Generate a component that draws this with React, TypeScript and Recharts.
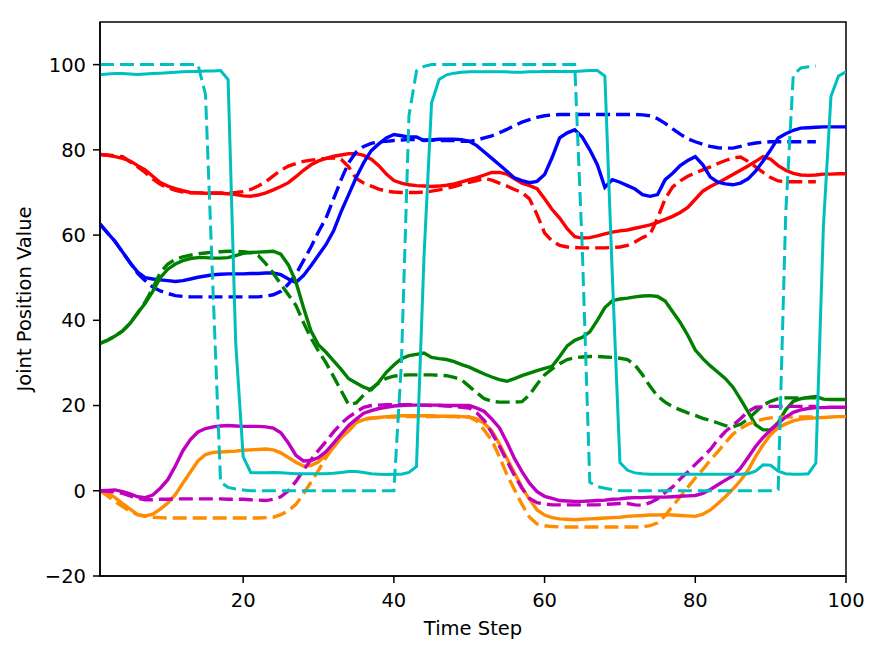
import React from 'react';
import { LineChart, Line, XAxis, YAxis, ReferenceArea } from 'recharts';

// time steps 1..100
const steps = Array.from({ length: 100 }, (_, i) => i + 1);

const xTicks = [20, 40, 60, 80, 100];
const yTicks = [-20, 0, 20, 40, 60, 80, 100];

// solid = actual, dashed = target (dashed series stop at step 96)
const cyanSolid = [
  97.6, 97.8, 97.9, 97.9, 97.8, 97.7, 97.8, 97.9, 98.0, 98.1,
  98.2, 98.3, 98.4, 98.4, 98.5, 98.5, 98.6, 96.5, 35.0, 8.0,
  4.3, 4.2, 4.2, 4.3, 4.2, 4.1, 4.0, 4.0, 4.0, 4.0,
  4.0, 4.1, 4.3, 4.5, 4.5, 4.3, 4.0, 3.9, 3.8, 3.9,
  3.9, 4.3, 5.7, 55.0, 91.0, 96.5, 97.6, 98.0, 98.2, 98.3,
  98.3, 98.3, 98.3, 98.3, 98.3, 98.2, 98.2, 98.3, 98.3, 98.4,
  98.4, 98.4, 98.4, 98.4, 98.5, 98.6, 98.6, 97.3, 50.0, 6.6,
  4.8, 4.2, 4.0, 3.9, 3.9, 3.9, 3.9, 3.9, 3.9, 3.9,
  3.9, 3.9, 3.9, 3.9, 3.9, 3.9, 4.0, 4.6, 6.1, 6.0,
  4.6, 4.0, 3.9, 3.9, 4.0, 6.5, 62.0, 92.5, 97.3, 98.3,
];
const cyanDashed = [
  100, 100, 100, 100, 100, 100, 100, 100, 100, 100,
  100, 100, 100, 100, 93, 47, 2, 0.8, 0.4, 0.2,
  0, 0, 0, 0, 0, 0, 0, 0, 0, 0,
  0, 0, 0, 0, 0, 0, 0, 0, 0, 0,
  30, 88, 98.5, 99.6, 100, 100, 100, 100, 100, 100,
  100, 100, 100, 100, 100, 100, 100, 100, 100, 100,
  100, 100, 100, 100, 57, 2, 1, 0.6, 0.3, 0,
  0, 0, 0, 0, 0, 0, 0, 0, 0, 0,
  0, 0, 0, 0, 0, 0, 0, 0, 0, 0,
  0.3, 65, 97.5, 99.2, 99.5, 99.7,
];
const redSolid = [
  78.9, 78.7, 78.4, 78.0, 77.4, 76.3, 75.3, 73.8, 72.3, 71.5,
  70.9, 70.4, 70.0, 69.9, 69.8, 69.8, 69.8, 69.7, 69.5, 69.2,
  69.1, 69.4, 69.9, 70.6, 71.4, 72.3, 73.7, 75.2, 76.5, 77.4,
  78.0, 78.5, 78.8, 79.1, 79.1, 78.7, 77.8, 76.3, 74.3, 72.8,
  72.2, 71.8, 71.6, 71.5, 71.4, 71.5, 71.7, 72.0, 72.5, 73.0,
  73.5, 74.1, 74.7, 74.7, 74.3, 73.2, 72.2, 71.6, 70.9, 68.5,
  66.0, 64.0, 61.5, 59.6, 59.3, 59.4, 59.8, 60.3, 60.7, 61.0,
  61.2, 61.6, 62.0, 62.4, 63.0, 63.7, 64.4, 65.3, 66.5, 68.4,
  70.3, 71.4, 72.3, 73.2, 74.2, 75.2, 76.2, 77.3, 78.4, 77.8,
  76.3, 75.2, 74.5, 74.1, 74.0, 74.1, 74.3, 74.3, 74.4, 74.4,
];
const redDashed = [
  78.9, 78.8, 78.6, 78.4, 77.2, 76.0, 74.7, 73.2, 71.9, 71.1,
  70.5, 70.1, 69.9, 69.9, 69.9, 69.9, 69.9, 69.9, 70.0, 70.2,
  70.7, 71.5, 72.5, 73.9, 75.2, 76.2, 76.8, 77.3, 77.6, 77.8,
  78.0, 78.1, 77.8, 76.0, 73.3, 72.2, 71.5, 70.8, 70.3, 70.1,
  70.0, 70.0, 70.0, 70.1, 70.3, 70.6, 71.0, 71.4, 71.9, 72.4,
  72.8, 73.3, 72.9, 72.2, 71.5, 70.7, 70.0, 68.5, 64.8, 60.5,
  58.6, 57.6, 57.2, 57.1, 57.0, 57.0, 57.0, 57.0, 57.1, 57.2,
  57.6, 58.4, 59.4, 60.2, 64.0, 68.5, 71.3, 72.7, 73.8, 74.6,
  75.3, 76.0, 76.8, 77.5, 78.1, 78.3, 77.3, 76.0, 74.7, 73.5,
  72.7, 72.5, 72.5, 72.5, 72.5, 72.5,
];
const blueSolid = [
  62.6, 60.5, 58.5, 56.0, 53.5, 51.3, 50.0, 49.7, 49.5, 49.3,
  49.1, 49.3, 49.7, 50.1, 50.4, 50.7, 50.8, 50.9, 50.9, 50.9,
  51.0, 51.0, 51.1, 51.1, 50.7, 49.7, 48.9, 50.5, 52.8, 55.3,
  57.8, 61.0, 65.5, 69.5, 73.5, 77.0, 79.8, 81.4, 82.8, 83.6,
  83.3, 83.0, 83.0, 82.2, 82.3, 82.5, 82.5, 82.5, 82.4, 82.0,
  81.0, 79.5, 78.0, 76.5, 75.0, 73.4, 72.8, 72.3, 72.6, 74.2,
  78.2, 82.8, 84.0, 84.7, 83.0, 80.0, 76.5, 71.2, 73.0, 72.4,
  71.6, 70.8, 69.5, 69.1, 69.5, 73.0, 74.5, 76.3, 77.5, 78.4,
  76.5, 73.6, 72.4, 72.0, 71.8, 72.2, 73.2, 75.0, 77.4, 80.0,
  82.8, 83.8, 84.6, 85.1, 85.2, 85.3, 85.4, 85.4, 85.4, 85.4,
];
const blueDashed = [
  62.6, 60.5, 58.5, 56.0, 53.5, 51.0, 49.3, 47.8, 46.9, 46.3,
  45.8, 45.6, 45.5, 45.5, 45.5, 45.5, 45.5, 45.5, 45.5, 45.5,
  45.5, 45.5, 45.7, 46.0, 46.8, 48.5, 50.8, 54.0, 57.2, 60.8,
  64.0, 68.5, 73.0, 77.0, 79.5, 80.8, 81.5, 81.9, 82.0, 82.2,
  82.3, 82.4, 82.4, 82.3, 82.3, 82.2, 82.2, 82.2, 82.0, 82.0,
  82.3, 82.8, 83.3, 84.0, 84.8, 85.7, 86.5, 87.1, 87.6, 88.0,
  88.2, 88.3, 88.3, 88.3, 88.3, 88.3, 88.3, 88.3, 88.3, 88.3,
  88.3, 88.3, 88.2, 88.0, 87.3, 86.2, 84.9, 83.7, 82.6, 81.9,
  81.3, 80.8, 80.5, 80.4, 80.4, 80.8, 81.3, 81.6, 81.8, 81.9,
  81.9, 81.9, 81.9, 81.9, 81.9, 81.9,
];
const greenSolid = [
  34.6, 35.3, 36.3, 37.5, 39.3, 41.7, 44.0, 46.8, 50.0, 52.0,
  53.2, 54.0, 54.5, 54.7, 54.7, 54.6, 54.6, 54.7, 55.2, 55.7,
  55.9, 56.0, 56.1, 56.2, 55.5, 53.0, 49.0, 43.0, 37.5, 34.2,
  32.5, 30.5, 28.5, 26.3, 25.3, 24.3, 23.7, 25.5, 27.8, 29.5,
  31.0, 31.7, 32.0, 32.3, 31.3, 31.0, 30.8, 30.3, 29.6, 29.0,
  28.2, 27.4, 26.7, 26.1, 25.7, 26.3, 27.0, 27.6, 28.2, 28.7,
  29.2, 31.5, 34.0, 35.3, 36.0, 37.3, 40.0, 43.0, 44.6, 45.0,
  45.2, 45.5, 45.7, 45.8, 45.6, 44.5, 42.0, 39.5, 36.5, 33.0,
  31.0, 29.3, 27.8, 26.3, 24.3, 21.5, 18.5, 15.5, 14.3, 14.3,
  16.0, 19.0, 21.0, 21.6, 21.9, 22.1, 21.5, 21.4, 21.4, 21.4,
];
const greenDashed = [
  34.6, 35.3, 36.3, 37.5, 39.3, 41.7, 44.3, 47.5, 51.2, 53.2,
  54.3, 54.9, 55.3, 55.6, 55.8, 56.0, 56.1, 56.2, 56.2, 56.1,
  55.9, 55.2, 53.3, 51.0, 48.5, 46.0, 43.5, 39.5, 35.8, 32.8,
  30.0, 26.8, 23.5, 20.2, 20.6, 22.5, 24.0, 25.3, 26.4, 26.9,
  27.1, 27.2, 27.2, 27.2, 27.2, 27.1, 27.0, 26.6, 26.0, 24.5,
  23.0, 21.6, 21.0, 20.8, 20.8, 20.8, 20.9, 22.5, 25.0, 27.2,
  28.6, 29.8, 30.8, 31.2, 31.4, 31.5, 31.5, 31.4, 31.3, 31.1,
  30.8, 29.5, 27.2, 24.5, 22.2, 20.8, 19.7, 19.0, 18.3, 17.7,
  17.0, 16.5, 15.9, 15.3, 15.0, 15.6, 16.8, 18.5, 20.1, 21.0,
  21.6, 21.8, 21.8, 21.8, 21.8, 21.8,
];
const orangeSolid = [
  0.0, -0.5, -1.6, -3.0, -4.3, -5.6, -5.9, -5.5, -4.3, -2.9,
  -0.9, 1.8, 4.4, 7.0, 8.5, 9.0, 9.1, 9.2, 9.3, 9.5,
  9.6, 9.7, 9.8, 9.6, 8.9, 7.8, 6.7, 5.8, 5.9, 6.8,
  8.4, 10.2, 12.5, 14.0, 16.0, 16.7, 17.0, 17.2, 17.4, 17.5,
  17.6, 17.6, 17.6, 17.6, 17.6, 17.5, 17.5, 17.5, 17.4, 17.3,
  16.9, 15.8, 14.1, 11.0, 7.6, 4.2, 0.8, -2.0, -4.5, -5.7,
  -6.3, -6.6, -6.7, -6.8, -6.7, -6.6, -6.5, -6.4, -6.3, -6.2,
  -6.0, -5.9, -5.8, -5.7, -5.7, -5.6, -5.7, -5.8, -5.9, -6.0,
  -5.5, -4.5, -3.0, -1.4, 0.4, 2.4, 4.8, 8.0, 10.8, 13.2,
  14.8, 15.7, 16.4, 16.8, 17.0, 17.1, 17.2, 17.3, 17.4, 17.4,
];
const orangeDashed = [
  0.0, -1.2, -2.5, -3.7, -4.8, -5.6, -6.0, -6.2, -6.3, -6.4,
  -6.4, -6.4, -6.4, -6.4, -6.4, -6.4, -6.4, -6.4, -6.4, -6.4,
  -6.4, -6.4, -6.3, -6.2, -5.6, -4.7, -3.2, -0.7, 2.0, 4.8,
  7.8, 10.3, 12.5, 14.5, 16.3, 16.9, 17.1, 17.2, 17.3, 17.3,
  17.4, 17.4, 17.4, 17.4, 17.4, 17.4, 17.4, 17.4, 17.3, 17.3,
  16.4, 14.2, 11.8, 8.0, 3.8, 0.3, -3.2, -6.2, -7.8, -8.2,
  -8.4, -8.5, -8.5, -8.5, -8.5, -8.5, -8.5, -8.5, -8.5, -8.5,
  -8.5, -8.5, -8.5, -8.2, -7.5, -5.8, -3.6, -1.4, 0.8, 3.0,
  5.0, 7.2, 9.2, 11.3, 13.3, 14.6, 15.6, 16.3, 16.8, 17.1,
  17.2, 17.3, 17.3, 17.3, 17.3, 17.3,
];
const magentaSolid = [
  0.0, 0.1, 0.2, -0.2, -0.7, -1.4, -1.6, -1.0, 0.6, 2.6,
  5.8, 9.4, 12.0, 13.8, 14.6, 15.0, 15.2, 15.3, 15.2, 15.1,
  15.1, 15.1, 15.0, 14.7, 13.6, 11.2, 8.3, 7.0, 7.1, 7.8,
  9.2, 11.2, 13.3, 15.3, 16.8, 18.2, 18.8, 19.3, 19.6, 19.9,
  20.0, 20.1, 20.1, 20.1, 20.1, 20.1, 20.0, 20.0, 20.0, 20.0,
  19.4, 18.6, 16.8, 14.8, 11.4, 7.6, 4.5, 1.8, -0.2, -1.3,
  -1.8, -2.3, -2.4, -2.5, -2.5, -2.4, -2.3, -2.2, -2.0, -1.9,
  -1.7, -1.6, -1.6, -1.5, -1.5, -1.5, -1.4, -1.3, -1.2, -1.1,
  -0.6, 0.3, 1.4, 2.5, 3.5, 5.3, 7.8, 10.4, 12.5, 14.3,
  15.8, 17.3, 18.4, 19.0, 19.3, 19.5, 19.5, 19.6, 19.6, 19.6,
];
const magentaDashed = [
  0.0, -0.1, -0.3, -0.6, -1.2, -1.8, -2.1, -2.1, -2.0, -2.0,
  -1.9, -1.9, -1.9, -1.9, -1.9, -1.9, -1.9, -2.0, -2.0, -2.0,
  -2.1, -2.2, -2.3, -2.0, -1.4, 0.0, 2.2, 4.8, 7.3, 9.5,
  11.6, 13.8, 15.8, 17.3, 18.5, 19.6, 20.0, 20.1, 20.2, 20.2,
  20.2, 20.2, 20.1, 20.1, 20.0, 20.0, 19.9, 19.8, 19.6, 19.4,
  18.3, 16.5, 13.6, 10.5, 7.0, 3.6, 0.6, -1.8, -2.8, -3.1,
  -3.3, -3.3, -3.3, -3.3, -3.3, -3.3, -3.3, -3.2, -3.1, -3.0,
  -3.0, -3.3, -3.4, -2.8, -1.9, -0.4, 0.9, 2.8, 4.4, 6.2,
  7.9, 9.7, 12.0, 13.9, 15.4, 16.9, 18.6, 19.6, 19.7, 19.8,
  19.8, 19.8, 19.8, 19.8, 19.8, 19.8,
];

const series = [
  { key: 'redSolid', values: redSolid, color: '#ff0000', dashed: false },
  { key: 'redDashed', values: redDashed, color: '#ff0000', dashed: true },
  { key: 'blueSolid', values: blueSolid, color: '#0000ff', dashed: false },
  { key: 'blueDashed', values: blueDashed, color: '#0000ff', dashed: true },
  { key: 'greenSolid', values: greenSolid, color: '#008000', dashed: false },
  { key: 'greenDashed', values: greenDashed, color: '#008000', dashed: true },
  { key: 'orangeSolid', values: orangeSolid, color: '#ff8c00', dashed: false },
  { key: 'orangeDashed', values: orangeDashed, color: '#ff8c00', dashed: true },
  { key: 'magentaSolid', values: magentaSolid, color: '#bf00bf', dashed: false },
  { key: 'magentaDashed', values: magentaDashed, color: '#bf00bf', dashed: true },
  { key: 'cyanSolid', values: cyanSolid, color: '#00bfbf', dashed: false },
  { key: 'cyanDashed', values: cyanDashed, color: '#00bfbf', dashed: true },
];

const data = steps.map((step, i) => {
  const row: Record<string, number> = { step };
  series.forEach(s => {
    if (i < s.values.length) row[s.key] = s.values[i];
  });
  return row;
});

const FONT = '"DejaVu Sans", sans-serif';
const FONT_SIZE = 19.5;
const tickStyle = { fill: '#000', fontSize: FONT_SIZE, fontFamily: FONT };
// matplotlib uses a real minus sign
const fmtTick = (v: number) => (v < 0 ? `\u2212${Math.abs(v)}` : `${v}`);

const XTitle = (props: any) => {
  const vb = props.viewBox || { x: 100, y: 576, width: 746, height: 79 };
  return (
    <text x={vb.x + vb.width / 2} y={vb.y + 59} textAnchor="middle" fill="#000" fontSize={FONT_SIZE} fontFamily={FONT}>
      Time Step
    </text>
  );
};

const YTitle = (props: any) => {
  const vb = props.viewBox || { x: 0, y: 22, width: 100, height: 554 };
  const cx = vb.x + 31;
  const cy = vb.y + vb.height / 2;
  return (
    <text x={cx} y={cy} transform={`rotate(-90, ${cx}, ${cy})`} textAnchor="middle" fill="#000" fontSize={FONT_SIZE} fontFamily={FONT}>
      Joint Position Value
    </text>
  );
};

const App: React.FC = () => {
  return (
    <div style={{ position: 'absolute', left: 0, top: 0, width: 881, height: 655, background: '#fff' }}>
      <LineChart width={881} height={655} data={data} margin={{ top: 22, right: 35, bottom: 0, left: 0 }}>
        <XAxis
          dataKey="step"
          type="number"
          domain={[1, 100]}
          ticks={xTicks}
          allowDataOverflow
          height={79}
          tick={tickStyle}
          tickFormatter={fmtTick}
          tickSize={7}
          tickMargin={10}
          axisLine={{ stroke: '#000', strokeWidth: 1.5 }}
          tickLine={{ stroke: '#000', strokeWidth: 1.5 }}
          label={<XTitle />}
        />
        <YAxis
          type="number"
          domain={[-20, 110]}
          ticks={yTicks}
          allowDataOverflow
          width={100}
          tick={tickStyle}
          tickFormatter={fmtTick}
          tickSize={7}
          tickMargin={7}
          axisLine={{ stroke: '#000', strokeWidth: 1.5 }}
          tickLine={{ stroke: '#000', strokeWidth: 1.5 }}
          label={<YTitle />}
        />
        {series.map(s => (
          <Line
            key={s.key}
            type="linear"
            dataKey={s.key}
            stroke={s.color}
            strokeWidth={s.key.startsWith('cyan') ? 3 : 3.4}
            strokeDasharray={s.dashed ? '14 6' : undefined}
            dot={false}
            activeDot={false}
            isAnimationActive={false}
          />
        ))}
        <ReferenceArea x1={1} x2={100} y1={-20} y2={110} fill="none" stroke="#000" strokeWidth={1.5} ifOverflow="visible" />
      </LineChart>
    </div>
  );
};

export default App;
